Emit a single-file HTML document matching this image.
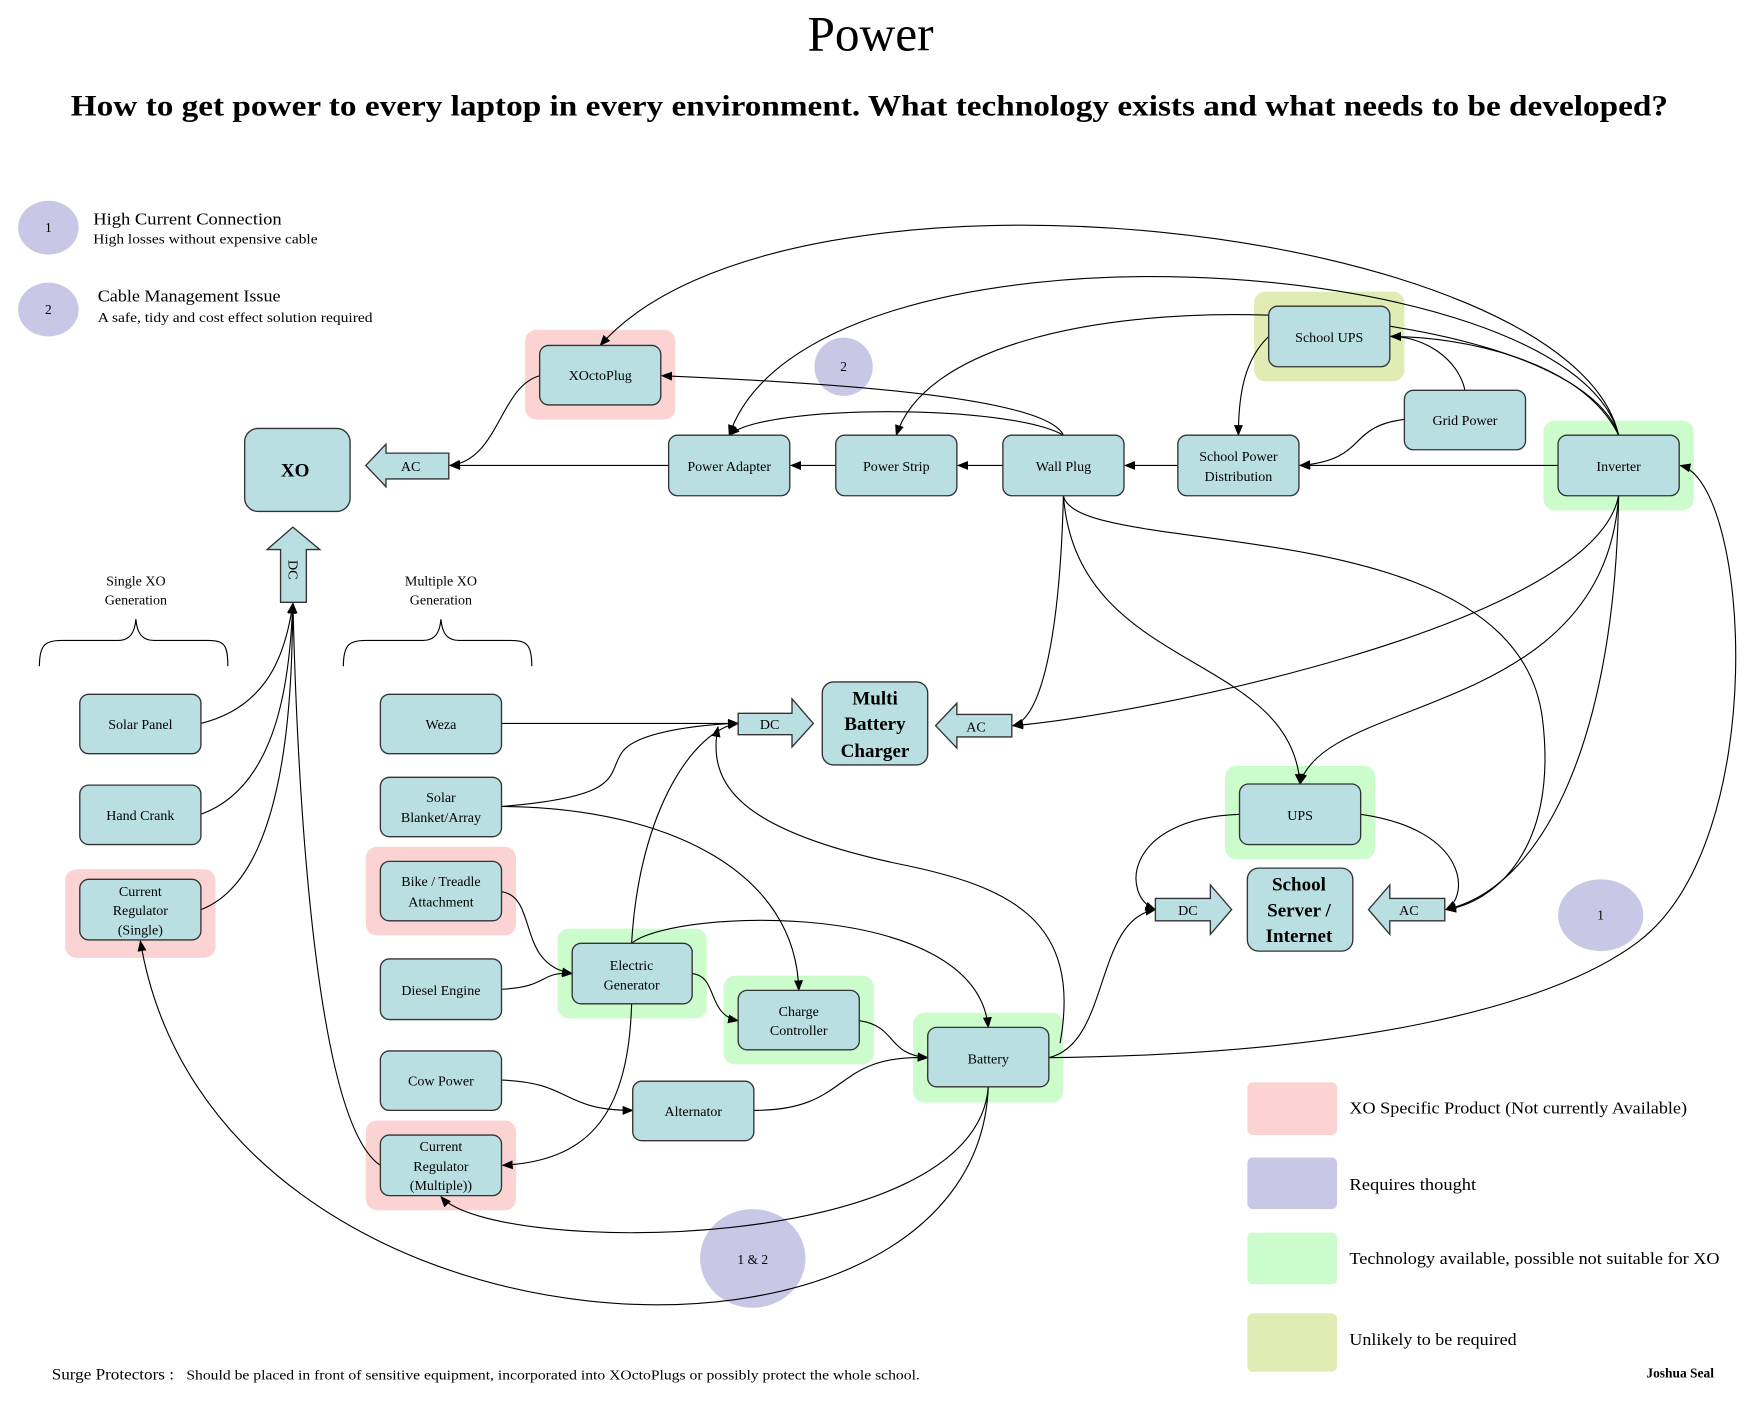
<!DOCTYPE html>
<html><head><meta charset="utf-8"><style>
html,body{margin:0;padding:0;background:#fff;width:1750px;height:1402px;overflow:hidden}
svg text{font-family:"Liberation Serif",serif;fill:#000}
</style></head><body>
<svg width="1750" height="1402" viewBox="0 0 1560 1250" xmlns="http://www.w3.org/2000/svg">
<defs>
<marker id="a" markerWidth="10" markerHeight="8" refX="9" refY="4" orient="auto" markerUnits="userSpaceOnUse">
<path d="M0,0 L10,4 L0,8 Z" fill="#000"/></marker>
</defs>
<text x="776" y="45" font-size="44" text-anchor="middle">Power</text>
<text x="63" y="103" font-size="26" font-weight="bold" textLength="1424" lengthAdjust="spacingAndGlyphs">How to get power to every laptop in every environment. What technology exists and what needs to be developed?</text>

<!-- legend notes -->
<ellipse cx="43" cy="203" rx="27" ry="24" fill="#c8c8e6"/><text x="43" y="207" font-size="12" text-anchor="middle">1</text>
<text x="83" y="200" font-size="15" textLength="168" lengthAdjust="spacingAndGlyphs">High Current Connection</text>
<text x="83" y="217" font-size="12" textLength="200" lengthAdjust="spacingAndGlyphs">High losses without expensive cable</text>
<ellipse cx="43" cy="276" rx="27" ry="24" fill="#c8c8e6"/><text x="43" y="280" font-size="12" text-anchor="middle">2</text>
<text x="87" y="269" font-size="15" textLength="163" lengthAdjust="spacingAndGlyphs">Cable Management Issue</text>
<text x="87" y="287" font-size="12" textLength="245" lengthAdjust="spacingAndGlyphs">A safe, tidy and cost effect solution required</text>

<!-- halos -->
<g>
<rect x="468" y="294" width="134" height="80" rx="10" fill="#fbd3d3"/>
<rect x="1118" y="260" width="134" height="80" rx="10" fill="#e0ecb4"/>
<rect x="1376" y="375" width="134" height="80" rx="10" fill="#ccfccc"/>
<rect x="58" y="775" width="134" height="79" rx="10" fill="#fbd3d3"/>
<rect x="326" y="755" width="134" height="79" rx="10" fill="#fbd3d3"/>
<rect x="326" y="999" width="134" height="80" rx="10" fill="#fbd3d3"/>
<rect x="497" y="828" width="133" height="80" rx="10" fill="#ccfccc"/>
<rect x="645" y="870" width="134" height="79" rx="10" fill="#ccfccc"/>
<rect x="814" y="903" width="134" height="80" rx="10" fill="#ccfccc"/>
<rect x="1092" y="683" width="134" height="83" rx="10" fill="#ccfccc"/>
</g>
<ellipse cx="752" cy="327" rx="26" ry="26" fill="#c8c8e6"/><text x="752" y="331" font-size="12" text-anchor="middle">2</text>
<ellipse cx="1427" cy="816" rx="38" ry="32" fill="#c8c8e6"/><text x="1427" y="820" font-size="12" text-anchor="middle">1</text>
<ellipse cx="671" cy="1122" rx="47" ry="44" fill="#c8c8e6"/><text x="671" y="1127" font-size="12" text-anchor="middle">1 &amp; 2</text>

<!-- connectors -->
<g fill="none" stroke="#000" stroke-width="1" marker-end="url(#a)">
<path d="M596,415 L401,415"/>
<path d="M745,415 L705,415"/>
<path d="M894,415 L854,415"/>
<path d="M1050,415 L1003,415"/>
<path d="M1389,415 L1159,415"/>
<path d="M481,335 C445,345 445,410 401,415"/>
<path d="M948,388 C930,350 700,340 590,335"/>
<path d="M948,388 C900,360 680,360 650,388"/>
<path d="M1443,388 C1400,200 700,120 535,308"/>
<path d="M1443,388 C1400,220 720,180 650,388"/>
<path d="M1443,388 C1400,260 850,230 799,388"/>
<path d="M1443,388 C1410,320 1300,300 1240,300"/>
<path d="M1306,348 C1300,320 1270,300 1240,300"/>
<path d="M1252,374 C1200,380 1220,410 1159,415"/>
<path d="M1131,300 C1110,320 1104,350 1104,388"/>
<path d="M935,943 C1200,940 1380,900 1460,840 C1580,750 1560,430 1498,415"/>
<path d="M1443,442 C1420,560 1000,640 903,647"/>
<path d="M1443,442 C1430,640 1180,620 1159,699"/>
<path d="M1443,442 C1440,650 1380,790 1289,811"/>
<path d="M948,442 C945,560 930,640 903,647"/>
<path d="M948,442 C960,600 1150,580 1159,699"/>
<path d="M948,442 C960,500 1350,450 1375,640 C1390,760 1330,805 1289,811"/>
<path d="M945,930 C965,820 900,790 800,770 C660,740 630,700 640,648"/>
<path d="M935,943 C990,930 975,820 1030,811"/>
<path d="M1105,726 C1000,730 1000,800 1030,811"/>
<path d="M1213,726 C1310,740 1310,800 1289,811"/>
<path d="M447,645 L658,645"/>
<path d="M447,719 C560,710 540,690 555,670 C570,650 640,645 658,645"/>
<path d="M447,719 C600,720 710,780 712,883"/>
<path d="M563,841 C570,720 620,650 658,645"/>
<path d="M563,841 C600,810 870,800 881,916"/>
<path d="M447,795 C480,800 460,860 510,868"/>
<path d="M447,882 C490,880 480,866 510,868"/>
<path d="M617,868 C640,870 630,905 658,910"/>
<path d="M766,910 C800,915 790,940 827,943"/>
<path d="M447,963 C510,965 500,990 564,990"/>
<path d="M672,990 C760,990 740,940 827,943"/>
<path d="M563,895 C560,1000 520,1035 448,1039"/>
<path d="M881,969 C870,1120 440,1120 393,1067"/>
<path d="M881,969 C870,1260 190,1230 125,839"/>
<path d="M179,645 C240,630 255,580 261,538"/>
<path d="M179,726 C250,700 258,600 261,538"/>
<path d="M179,811 C260,780 260,600 261,538"/>
<path d="M339,1039 C280,1000 265,700 261,538"/>
</g>

<!-- nodes -->
<g fill="#b9dfe3" stroke="#333" stroke-width="1.2">
<rect x="218" y="382" width="94" height="74" rx="12"/>
<rect x="481" y="308" width="108" height="53" rx="8"/>
<rect x="596" y="388" width="108" height="54" rx="8"/>
<rect x="745" y="388" width="108" height="54" rx="8"/>
<rect x="894" y="388" width="108" height="54" rx="8"/>
<rect x="1050" y="388" width="108" height="54" rx="8"/>
<rect x="1389" y="388" width="108" height="54" rx="8"/>
<rect x="1131" y="273" width="108" height="54" rx="8"/>
<rect x="1252" y="348" width="108" height="53" rx="8"/>
<rect x="71" y="619" width="108" height="53" rx="8"/>
<rect x="71" y="700" width="108" height="53" rx="8"/>
<rect x="71" y="784" width="108" height="54" rx="8"/>
<rect x="339" y="619" width="108" height="53" rx="8"/>
<rect x="339" y="693" width="108" height="53" rx="8"/>
<rect x="339" y="768" width="108" height="53" rx="8"/>
<rect x="339" y="855" width="108" height="54" rx="8"/>
<rect x="339" y="937" width="108" height="53" rx="8"/>
<rect x="339" y="1012" width="108" height="54" rx="8"/>
<rect x="510" y="841" width="107" height="54" rx="8"/>
<rect x="658" y="883" width="108" height="53" rx="8"/>
<rect x="564" y="964" width="108" height="53" rx="8"/>
<rect x="827" y="916" width="108" height="53" rx="8"/>
<rect x="733" y="608" width="94" height="74" rx="10"/>
<rect x="1105" y="699" width="108" height="54" rx="8"/>
<rect x="1112" y="774" width="94" height="74" rx="10"/>
<path d="M400,404 L344,404 L344,396 L326,415 L344,434 L344,427 L400,427 Z"/>
<path d="M250,537 L250,490 L238,490 L261,470 L285,490 L273,490 L273,537 Z"/>
<path d="M658,636 L706,636 L706,623 L725,645 L706,666 L706,655 L658,655 Z"/>
<path d="M902,637 L853,637 L853,627 L834,647 L853,667 L853,657 L902,657 Z"/>
<path d="M1030,801 L1079,801 L1079,789 L1098,811 L1079,833 L1079,821 L1030,821 Z"/>
<path d="M1288,801 L1239,801 L1239,789 L1220,811 L1239,833 L1239,821 L1288,821 Z"/>
</g>

<g font-size="12.5" text-anchor="middle">
<text x="263" y="425" font-size="17" font-weight="bold">XO</text>
<text x="366" y="420">AC</text>
<text transform="translate(257,508) rotate(90)" text-anchor="middle">DC</text>
<text x="535" y="339">XOctoPlug</text>
<text x="650" y="420">Power Adapter</text>
<text x="799" y="420">Power Strip</text>
<text x="948" y="420">Wall Plug</text>
<text x="1104" y="411">School Power</text>
<text x="1104" y="429">Distribution</text>
<text x="1443" y="420">Inverter</text>
<text x="1185" y="305">School UPS</text>
<text x="1306" y="379">Grid Power</text>
<text x="121" y="522">Single XO</text>
<text x="121" y="539">Generation</text>
<text x="393" y="522">Multiple XO</text>
<text x="393" y="539">Generation</text>
<text x="125" y="650">Solar Panel</text>
<text x="125" y="731">Hand Crank</text>
<text x="125" y="799">Current</text>
<text x="125" y="816">Regulator</text>
<text x="125" y="833">(Single)</text>
<text x="393" y="650">Weza</text>
<text x="393" y="715">Solar</text>
<text x="393" y="733">Blanket/Array</text>
<text x="393" y="790">Bike / Treadle</text>
<text x="393" y="808">Attachment</text>
<text x="393" y="887">Diesel Engine</text>
<text x="393" y="968">Cow Power</text>
<text x="393" y="1026">Current</text>
<text x="393" y="1044">Regulator</text>
<text x="393" y="1061">(Multiple))</text>
<text x="563" y="865">Electric</text>
<text x="563" y="882">Generator</text>
<text x="712" y="906">Charge</text>
<text x="712" y="923">Controller</text>
<text x="618" y="995">Alternator</text>
<text x="881" y="948">Battery</text>
<text x="686" y="650">DC</text>
<text x="870" y="652">AC</text>
<text x="1059" y="816">DC</text>
<text x="1256" y="816">AC</text>
<text x="1159" y="731">UPS</text>
<g font-size="17" font-weight="bold">
<text x="780" y="628">Multi</text>
<text x="780" y="651">Battery</text>
<text x="780" y="675">Charger</text>
<text x="1158" y="794">School</text>
<text x="1158" y="817">Server /</text>
<text x="1158" y="840">Internet</text>
</g>
</g>

<g fill="none" stroke="#000" stroke-width="1">
<path d="M35,594 C35,575 40,571 55,571 L105,571 C115,571 120,565 121,552 C122,565 127,571 137,571 L185,571 C200,571 203,575 203,594"/>
<path d="M306,594 C306,575 311,571 326,571 L377,571 C387,571 392,565 393,552 C394,565 399,571 409,571 L455,571 C470,571 474,575 474,594"/>
</g>

<rect x="1112" y="965" width="80" height="47" rx="5" fill="#fbd3d3"/>
<rect x="1112" y="1032" width="80" height="46" rx="5" fill="#c8c8e6"/>
<rect x="1112" y="1099" width="80" height="46" rx="5" fill="#ccfccc"/>
<rect x="1112" y="1171" width="80" height="52" rx="5" fill="#e0ecb4"/>
<g font-size="15">
<text x="1203" y="993" textLength="301" lengthAdjust="spacingAndGlyphs">XO Specific Product (Not currently Available)</text>
<text x="1203" y="1061" textLength="113" lengthAdjust="spacingAndGlyphs">Requires thought</text>
<text x="1203" y="1127" textLength="330" lengthAdjust="spacingAndGlyphs">Technology available, possible not suitable for XO</text>
<text x="1203" y="1199" textLength="149" lengthAdjust="spacingAndGlyphs">Unlikely to be required</text>
</g>
<text x="46" y="1230" font-size="14" textLength="109" lengthAdjust="spacingAndGlyphs">Surge Protectors :</text>
<text x="166" y="1230" font-size="12" textLength="654" lengthAdjust="spacingAndGlyphs">Should be placed in front of sensitive equipment, incorporated into XOctoPlugs or possibly protect the whole school.</text>
<text x="1528" y="1228" font-size="12" font-weight="bold" text-anchor="end">Joshua Seal</text>
</svg>
</body></html>
